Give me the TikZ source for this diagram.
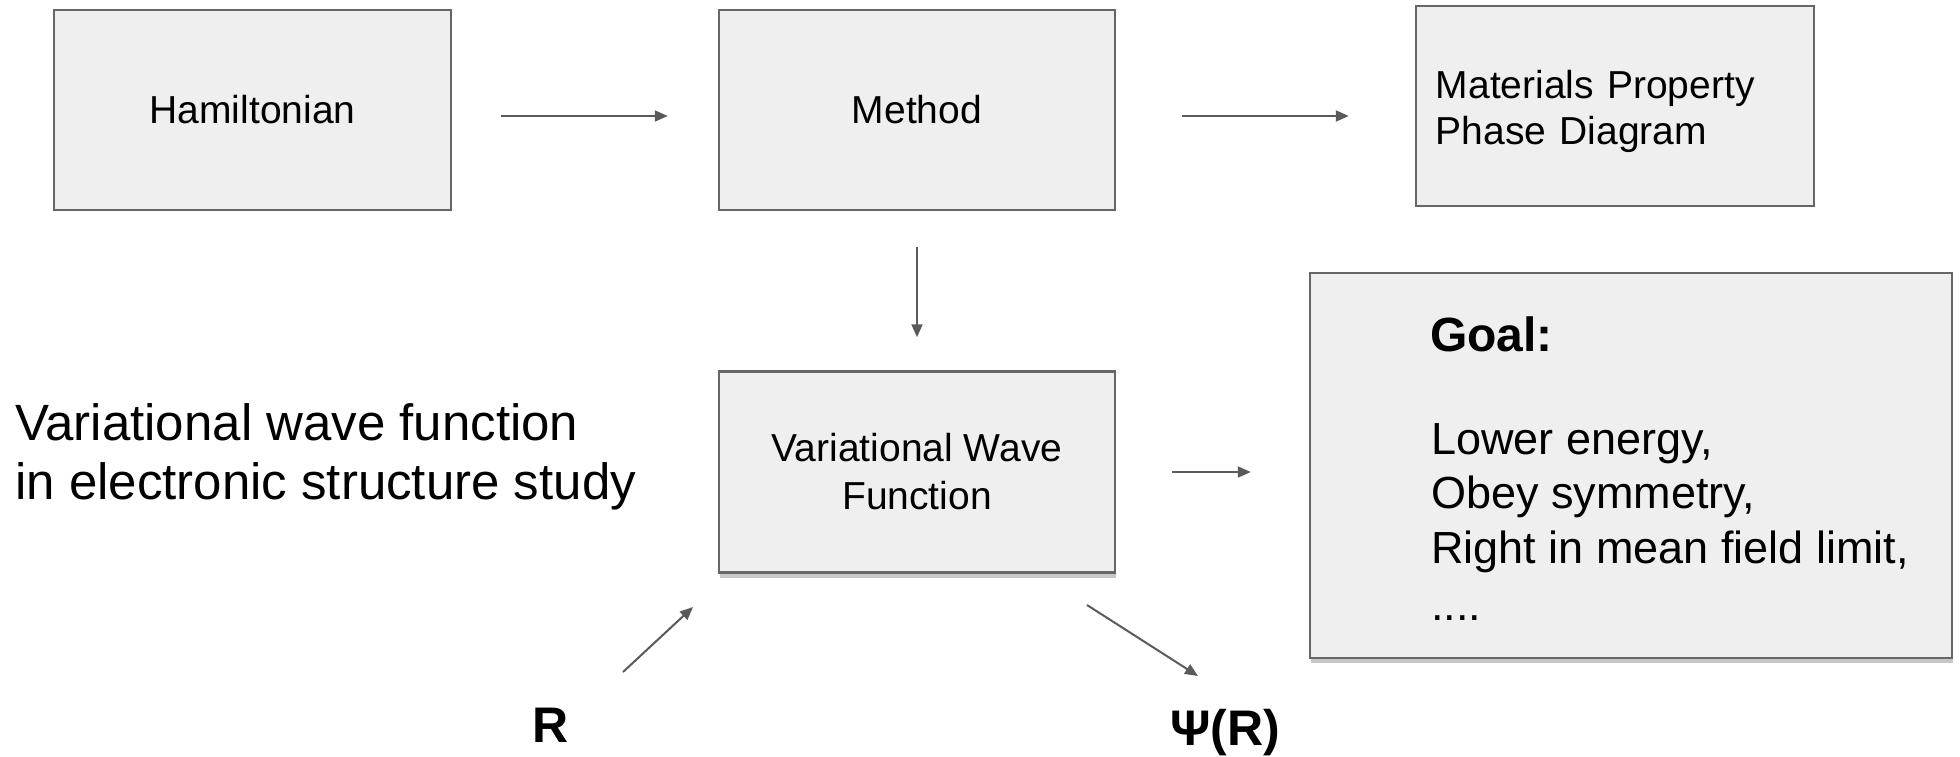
\documentclass[tikz,border=0pt]{standalone}
\usepackage{fontspec}
\setmainfont{Liberation Sans}
\usetikzlibrary{arrows.meta,shadows}
\definecolor{boxfill}{HTML}{EFEFEF}
\definecolor{boxline}{HTML}{666666}
\definecolor{arrowgray}{HTML}{5A5A5A}
\begin{document}
\begin{tikzpicture}[x=1pt,y=-1pt,
  box/.style={draw=boxline, fill=boxfill, line width=2.5pt, inner sep=0pt,
              font=\fontsize{39}{48}\selectfont, align=center},
  shadowed/.style={drop shadow={shadow xshift=1pt, shadow yshift=-5pt, opacity=0.22, fill=black}},
  flow/.style={draw=arrowgray, line width=2pt, -{Triangle[length=13pt,width=11pt]}},
  plain/.style={inner sep=0pt, text=black},
  bigtext/.style={plain, font=\fontsize{51}{60}\selectfont},
  goaltext/.style={plain, font=\fontsize{45}{54}\selectfont},
  sym/.style={plain, font=\bfseries\fontsize{50}{60}\selectfont},
]
\useasboundingbox (0,0) rectangle (1960,756);

% top row
\node[box, minimum width=397pt, minimum height=200pt] (ham) at (252.5,110) {Hamiltonian};
\node[box, minimum width=396pt, minimum height=200pt] (meth) at (917,110) {Method};
\node[box, minimum width=398pt, minimum height=200pt] (mat) at (1615,106) {};
\node[plain, font=\fontsize{39}{46}\selectfont, text width=356pt, align=left, anchor=west] (mattext)
  at ([yshift=-5pt]mat.west) [xshift=21pt] {Materials Property\\Phase Diagram};

% middle row
\node[box, shadowed, minimum width=396pt, minimum height=201pt] (vwf) at (917,472)
  {Variational Wave\\Function};
\node[box, shadowed, minimum width=642pt, minimum height=385pt] (goal) at (1631,465.5) {};

% goal contents
\node[plain, anchor=base west, font=\bfseries\fontsize{48}{54}\selectfont] (gtitle) at (1430,351) {Goal:};
\node[goaltext, anchor=base west] (g1) at (1431,454) {Lower energy,};
\node[goaltext, anchor=base west] (g2) at (1431,508) {Obey symmetry,};
\node[goaltext, anchor=base west] (g3) at (1431,563) {Right in mean field limit,};
\node[goaltext, anchor=base west] (g4) at (1431,620) {....};

% side caption
\node[bigtext, anchor=base west] (cap1) at (15,440) {Variational wave function};
\node[bigtext, anchor=base west] (cap2) at (15,499) {in electronic structure study};

% input and output symbols
\node[sym, anchor=base] (rin) at (551,742) {R};
\node[sym, anchor=base] (psiout) at (1225,745) {Ψ(R)};
\coordinate (rtail) at (623,672);
\coordinate (rhead) at (693,607);
\coordinate (ptail) at (1087,605);
\coordinate (phead) at (1198,676);

% connectors
\draw[flow, shorten <=49pt, shorten >=50pt] ([yshift=-6pt]ham.east) -- ([yshift=-6pt]meth.west);
\draw[flow, shorten <=66pt, shorten >=66pt] ([yshift=-6pt]meth.east) -- ([yshift=-6pt]meth.east -| mat.west);
\draw[flow, shorten <=36pt, shorten >=33pt] (meth.south) -- (vwf.north);
\draw[flow, shorten <=56pt, shorten >=58pt] (vwf.east) -- (vwf.east -| goal.west);
\draw[flow] (rtail) -- (rhead);
\draw[flow] (ptail) -- (phead);
\end{tikzpicture}
\end{document}
